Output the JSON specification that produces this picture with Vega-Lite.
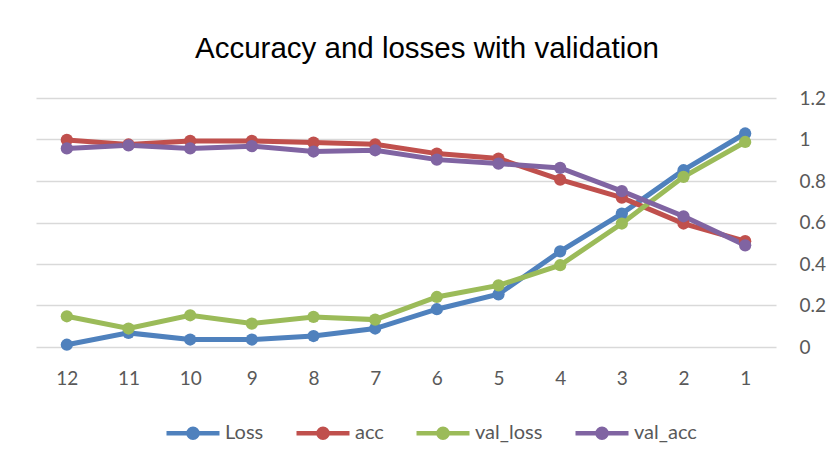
{
  "$schema": "https://vega.github.io/schema/vega-lite/v6.json",
  "width": 740,
  "height": 249,
  "autosize": {"type": "none"},
  "padding": {"left": 36, "top": 98, "right": 57, "bottom": 118},
  "background": "white",
  "config": {"view": {"stroke": null}},
  "title": {
    "text": "Accuracy and losses with validation",
    "font": "Liberation Sans",
    "fontSize": 29.5,
    "fontWeight": "normal",
    "color": "#000000",
    "anchor": "middle",
    "frame": "group",
    "offset": 25,
    "dx": 21
  },
  "data": {
    "values": [
      {"epoch": 12, "series": "Loss", "value": 0.011},
      {"epoch": 11, "series": "Loss", "value": 0.068},
      {"epoch": 10, "series": "Loss", "value": 0.036},
      {"epoch": 9, "series": "Loss", "value": 0.036},
      {"epoch": 8, "series": "Loss", "value": 0.053},
      {"epoch": 7, "series": "Loss", "value": 0.089},
      {"epoch": 6, "series": "Loss", "value": 0.182},
      {"epoch": 5, "series": "Loss", "value": 0.254},
      {"epoch": 4, "series": "Loss", "value": 0.461},
      {"epoch": 3, "series": "Loss", "value": 0.643},
      {"epoch": 2, "series": "Loss", "value": 0.852},
      {"epoch": 1, "series": "Loss", "value": 1.029},
      {"epoch": 12, "series": "acc", "value": 0.998},
      {"epoch": 11, "series": "acc", "value": 0.976},
      {"epoch": 10, "series": "acc", "value": 0.993},
      {"epoch": 9, "series": "acc", "value": 0.993},
      {"epoch": 8, "series": "acc", "value": 0.985},
      {"epoch": 7, "series": "acc", "value": 0.977},
      {"epoch": 6, "series": "acc", "value": 0.932},
      {"epoch": 5, "series": "acc", "value": 0.908},
      {"epoch": 4, "series": "acc", "value": 0.807},
      {"epoch": 3, "series": "acc", "value": 0.72},
      {"epoch": 2, "series": "acc", "value": 0.595},
      {"epoch": 1, "series": "acc", "value": 0.51},
      {"epoch": 12, "series": "val_loss", "value": 0.148},
      {"epoch": 11, "series": "val_loss", "value": 0.089},
      {"epoch": 10, "series": "val_loss", "value": 0.153},
      {"epoch": 9, "series": "val_loss", "value": 0.113},
      {"epoch": 8, "series": "val_loss", "value": 0.145},
      {"epoch": 7, "series": "val_loss", "value": 0.132},
      {"epoch": 6, "series": "val_loss", "value": 0.241},
      {"epoch": 5, "series": "val_loss", "value": 0.297},
      {"epoch": 4, "series": "val_loss", "value": 0.394},
      {"epoch": 3, "series": "val_loss", "value": 0.595},
      {"epoch": 2, "series": "val_loss", "value": 0.82},
      {"epoch": 1, "series": "val_loss", "value": 0.988},
      {"epoch": 12, "series": "val_acc", "value": 0.957},
      {"epoch": 11, "series": "val_acc", "value": 0.972},
      {"epoch": 10, "series": "val_acc", "value": 0.957},
      {"epoch": 9, "series": "val_acc", "value": 0.968},
      {"epoch": 8, "series": "val_acc", "value": 0.942},
      {"epoch": 7, "series": "val_acc", "value": 0.948},
      {"epoch": 6, "series": "val_acc", "value": 0.903},
      {"epoch": 5, "series": "val_acc", "value": 0.884},
      {"epoch": 4, "series": "val_acc", "value": 0.863},
      {"epoch": 3, "series": "val_acc", "value": 0.751},
      {"epoch": 2, "series": "val_acc", "value": 0.63},
      {"epoch": 1, "series": "val_acc", "value": 0.49}
    ]
  },
  "encoding": {
    "x": {
      "field": "epoch",
      "type": "ordinal",
      "sort": "descending",
      "scale": {"type": "point", "padding": 0.5},
      "axis": {
        "title": null,
        "labelAngle": 0,
        "grid": false,
        "domain": false,
        "ticks": false,
        "labelFont": "Lato",
        "labelFontSize": 19,
        "labelColor": "#595959",
        "labelPadding": 22
      }
    },
    "y": {
      "field": "value",
      "type": "quantitative",
      "scale": {"domain": [0, 1.2]},
      "axis": {
        "orient": "right",
        "title": null,
        "values": [0, 0.2, 0.4, 0.6, 0.8, 1, 1.2],
        "format": "~g",
        "grid": true,
        "gridColor": "#D9D9D9",
        "gridWidth": 1.3,
        "domain": false,
        "ticks": false,
        "labelFont": "Lato",
        "labelFontSize": 19,
        "labelColor": "#595959",
        "labelPadding": 23
      }
    },
    "color": {
      "field": "series",
      "type": "nominal",
      "scale": {
        "domain": ["Loss", "acc", "val_loss", "val_acc"],
        "range": ["#4F81BD", "#C0504D", "#9BBB59", "#8064A2"]
      },
      "legend": {
        "title": null,
        "orient": "none",
        "direction": "horizontal",
        "legendX": 128,
        "legendY": 306,
        "symbolType": "M-1,0L1,0M-0.17,0a0.17,0.17 0 1,0 0.34,0a0.17,0.17 0 1,0 -0.34,0",
        "symbolSize": 2809,
        "symbolStrokeWidth": 4.5,
        "labelFont": "Lato",
        "labelFontSize": 20,
        "labelColor": "#595959",
        "labelOffset": 3,
        "columnPadding": 23,
        "encode": {
          "symbols": {
            "update": {
              "fill": {"scale": "color", "field": "value"},
              "stroke": {"scale": "color", "field": "value"},
              "strokeWidth": {"value": 4.5},
              "opacity": {"value": 1}
            }
          }
        }
      }
    }
  },
  "layer": [
    {"mark": {"type": "line", "strokeWidth": 5}},
    {"mark": {"type": "point", "filled": true, "size": 150, "opacity": 1}}
  ]
}
